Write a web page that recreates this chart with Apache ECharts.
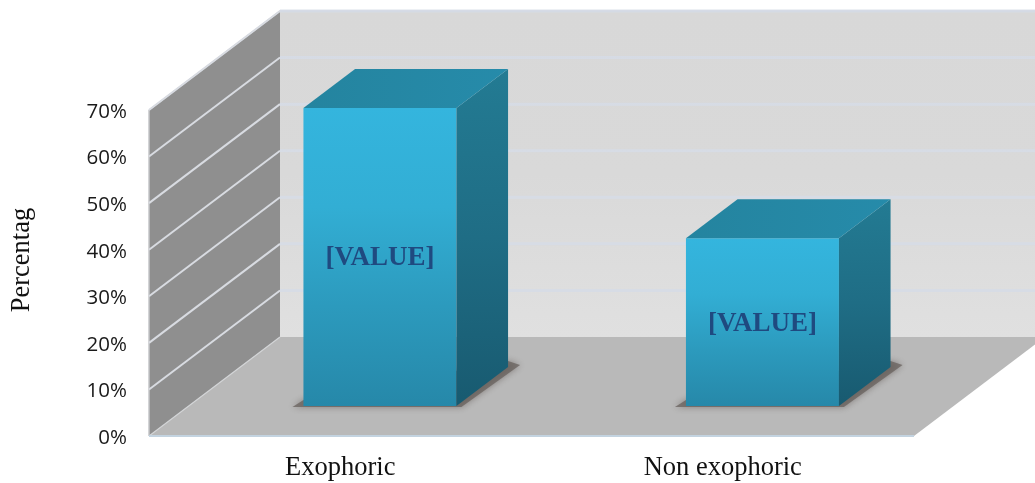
<!DOCTYPE html>
<html>
<head>
<meta charset="utf-8">
<style>html,body{margin:0;padding:0;background:#fff}#chart{width:1035px;height:483px}</style>
<script src="https://cdn.jsdelivr.net/npm/echarts@6/dist/echarts.min.js"></script>
</head>
<body>
<div id="chart"></div>
<script>
// Reported shares
const categories = ['Exophoric', 'Non exophoric'];
const shareValues = [64, 36];
const shareLabels = ['[VALUE]', '[VALUE]'];
const yTicks = [10, 20, 30, 40, 50, 60, 70];

// Oblique projection of the floor depth onto the screen, in pixels for depth = 1
const DEPTH_X = 131;
const DEPTH_Y = -99;
const BAR_FRONT = 0.303;
const BAR_BACK = 0.697;
const SERIF = '"Liberation Serif", "Times New Roman", serif';

const chart = echarts.init(document.getElementById('chart'), null, { renderer: 'canvas' });
const project = (p, depth) => [p[0] + DEPTH_X * depth, p[1] + DEPTH_Y * depth];
const polygon = (points, fill, extra) => ({
  type: 'polygon',
  shape: { points },
  style: Object.assign({ fill }, extra || {})
});
const vGrad = (stops) => new echarts.graphic.LinearGradient(0, 0, 0, 1,
  stops.map((c, i) => ({ offset: i / (stops.length - 1), color: c })));

// Back wall, side wall and floor of the box
function renderWalls(params, api) {
  const g = params.coordSys;
  const fl = [g.x, g.y + g.height], tl = [g.x, g.y];
  const fr = [g.x + g.width, g.y + g.height];
  const blTop = project(tl, 1), blBottom = project(fl, 1), brBottom = project(fr, 1);
  const brTop = [brBottom[0], blTop[1]];
  return {
    type: 'group',
    children: [
      polygon([blTop, brTop, brBottom, blBottom], vGrad(['#d8d8d8', '#d9d9d9', '#e0e0e0'])),
      polygon([tl, blTop, blBottom, fl], '#8f8f8f'),
      polygon([fl, blBottom, brBottom, fr], '#b9b9b9'),
      { type: 'polyline', shape: { points: [tl, blTop, brTop] },
        style: { fill: null, stroke: '#c6cbd6', lineWidth: 1.5 } },
      { type: 'line', shape: { x1: tl[0], y1: tl[1], x2: fl[0], y2: fl[1] },
        style: { stroke: '#c4c6c9', lineWidth: 1.5 } },
      { type: 'line', shape: { x1: fl[0], y1: fl[1], x2: blBottom[0], y2: blBottom[1] },
        style: { stroke: '#d2d4d6', lineWidth: 1.2 } },
      { type: 'line', shape: { x1: fl[0], y1: fl[1], x2: fr[0], y2: fr[1] },
        style: { stroke: '#c3d3e0', lineWidth: 2 } }
    ]
  };
}

// One gridline per tick: across the side wall, then along the back wall
function renderGridline(params, api) {
  const g = params.coordSys;
  const y = api.coord([0, api.value(0)])[1];
  const left = [g.x, y], corner = project(left, 1);
  const end = [project([g.x + g.width, y], 1)[0], corner[1]];
  return {
    type: 'group',
    children: [
      { type: 'line', shape: { x1: left[0], y1: left[1], x2: corner[0], y2: corner[1] },
        style: { stroke: '#d8dbe1', lineWidth: 2 } },
      { type: 'line', shape: { x1: corner[0], y1: corner[1], x2: end[0], y2: end[1] },
        style: { stroke: '#d6dce6', lineWidth: 3, opacity: 0.85 } }
    ]
  };
}

// A box standing on the floor: soft contact shadow, then front, side and top faces
function renderBar(params, api) {
  const cat = api.value(0), val = api.value(1);
  const half = api.size([1, 0])[0] * 0.4 / 2;
  const base = api.coord([cat, 0]), top = api.coord([cat, val]);
  const at = (dx, p, depth) => project([p[0] + dx, p[1]], depth);
  const fbl = at(-half, base, BAR_FRONT), fbr = at(half, base, BAR_FRONT);
  const ftl = at(-half, top, BAR_FRONT), ftr = at(half, top, BAR_FRONT);
  const bbr = at(half, base, BAR_BACK);
  const btl = at(-half, top, BAR_BACK), btr = at(half, top, BAR_BACK);
  return {
    type: 'group',
    children: [
      polygon([
        [fbl[0] - 11, fbl[1] + 1], [fbr[0] + 5, fbr[1] + 1],
        [bbr[0] + 12, bbr[1] - 2], [bbr[0], bbr[1] - 6], [fbl[0], fbl[1] - 6]
      ], 'rgba(100,92,88,0.7)', { shadowBlur: 7, shadowColor: 'rgba(100,92,88,0.9)' }),
      polygon([ftl, ftr, fbr, fbl], vGrad(['#34b5de', '#32aed4', '#2c9abd', '#2688a9'])),
      polygon([ftr, btr, bbr, fbr], vGrad(['#237b93', '#1f6d85', '#185a70'])),
      polygon([ftl, btl, btr, ftr], new echarts.graphic.LinearGradient(0, 0, 1, 0, [
        { offset: 0, color: '#24849f' }, { offset: 1, color: '#268baa' }
      ])),
      {
        type: 'text',
        style: {
          text: shareLabels[params.dataIndex],
          x: (fbl[0] + fbr[0]) / 2,
          y: (ftl[1] + fbl[1]) / 2 + 1.5,
          align: 'center',
          verticalAlign: 'middle',
          font: 'bold 27px ' + SERIF,
          fill: '#1f4a80'
        }
      }
    ]
  };
}

chart.setOption({
  animation: false,
  backgroundColor: '#ffffff',
  grid: { left: 149, right: 121, top: 110, bottom: 47 },
  xAxis: {
    type: 'category',
    data: categories,
    axisLine: { show: false },
    axisTick: { show: false },
    axisLabel: { margin: 19, fontFamily: SERIF, fontSize: 26.5, color: '#111111' }
  },
  yAxis: {
    type: 'value',
    min: 0,
    max: 70,
    interval: 10,
    name: 'Percentag',
    nameLocation: 'middle',
    nameGap: 113,
    nameTextStyle: { fontFamily: SERIF, fontSize: 26.5, color: '#111111', padding: [0, 0, 0, 26] },
    axisLine: { show: false },
    axisTick: { show: false },
    splitLine: { show: false },
    axisLabel: {
      margin: 22,
      formatter: '{t|{value}%}',
      rich: {
        t: {
          fontFamily: '"Open Sans", sans-serif',
          fontSize: 20.5,
          color: '#1a1a1a',
          padding: [4, 0, 0, 0]
        }
      }
    }
  },
  series: [
    { type: 'custom', name: 'walls', renderItem: renderWalls, data: [0], silent: true, z: 1 },
    { type: 'custom', name: 'gridlines', renderItem: renderGridline,
      data: yTicks, encode: { y: 0 }, silent: true, z: 2 },
    { type: 'custom', name: 'Share', renderItem: renderBar,
      data: categories.map((c, i) => [i, shareValues[i]]), encode: { x: 0, y: 1 }, z: 3 }
  ]
});
</script>
</body>
</html>
